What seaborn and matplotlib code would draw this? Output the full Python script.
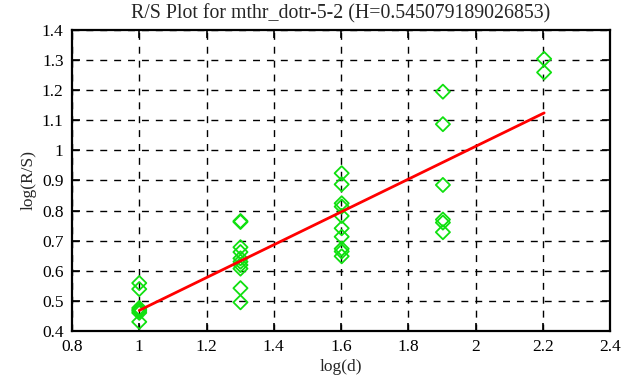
import numpy as np
import pandas as pd
import seaborn as sns
import matplotlib
matplotlib.use("Agg")
import matplotlib.pyplot as plt

# log10 of window sizes 10, 20, 40, 80, 160
log_d_1 = [1.0] * 7
log_rs_1 = [0.559, 0.539, 0.476, 0.470, 0.466, 0.460, 0.430]
log_d_2 = [1.301] * 10
log_rs_2 = [0.765, 0.762, 0.678, 0.662, 0.641, 0.630, 0.619, 0.607, 0.542, 0.495]
log_d_3 = [1.602] * 10
log_rs_3 = [0.924, 0.887, 0.824, 0.813, 0.782, 0.741, 0.713, 0.673, 0.664, 0.648]
log_d_4 = [1.903] * 6
log_rs_4 = [1.195, 1.087, 0.885, 0.770, 0.760, 0.728]
log_d_5 = [2.204] * 2
log_rs_5 = [1.304, 1.259]

hurst = 0.545079189026853
intercept = -0.077

x_ticks = [0.8, 1.0, 1.2, 1.4, 1.6, 1.8, 2.0, 2.2, 2.4]
x_labels = ["0.8", "1", "1.2", "1.4", "1.6", "1.8", "2", "2.2", "2.4"]
y_ticks = [0.4, 0.5, 0.6, 0.7, 0.8, 0.9, 1.0, 1.1, 1.2, 1.3, 1.4]
y_labels = ["0.4", "0.5", "0.6", "0.7", "0.8", "0.9", "1", "1.1", "1.2", "1.3", "1.4"]

df = pd.DataFrame({
    "log_d": log_d_1 + log_d_2 + log_d_3 + log_d_4 + log_d_5,
    "log_rs": log_rs_1 + log_rs_2 + log_rs_3 + log_rs_4 + log_rs_5,
})

# fitted line across the range of data
fit = pd.DataFrame({"log_d": [df["log_d"].min(), df["log_d"].max()]})
fit["log_rs"] = hurst * fit["log_d"] + intercept

sns.set_style("ticks")
plt.rcParams["font.family"] = ["Liberation Serif", "DejaVu Serif"]
plt.rcParams["font.size"] = 12.5

fig = plt.figure(figsize=(6.26, 3.87), dpi=100)
ax = fig.add_axes([0.115, 0.145, 0.8595, 0.7775])

sns.scatterplot(data=df, x="log_d", y="log_rs", ax=ax, marker="D", s=52,
                facecolor="none", edgecolor="#10e010", linewidth=1.3, zorder=3)
sns.lineplot(data=fit, x="log_d", y="log_rs", ax=ax, color="#ff0000",
             linewidth=2.0, zorder=4)

ax.set_xlim(0.8, 2.4)
ax.set_ylim(0.4, 1.4)
ax.set_xticks(x_ticks)
ax.set_xticklabels(x_labels)
ax.set_yticks(y_ticks)
ax.set_yticklabels(y_labels)
ax.grid(True, color="black", linestyle=(0, (5, 5)), linewidth=1.0)
ax.tick_params(direction="in", length=6, width=1.2, top=True, right=True,
               colors="black", pad=6)
for sp in ax.spines.values():
    sp.set_visible(True)
    sp.set_linewidth(1.6)
    sp.set_color("black")

ax.set_title("R/S Plot for mthr_dotr-5-2 (H=0.545079189026853)", pad=8,
             fontsize=14.3)
ax.set_xlabel("log(d)", labelpad=3)
ax.set_ylabel("log(R/S)", labelpad=4)

fig.savefig("out.png", dpi=100)
